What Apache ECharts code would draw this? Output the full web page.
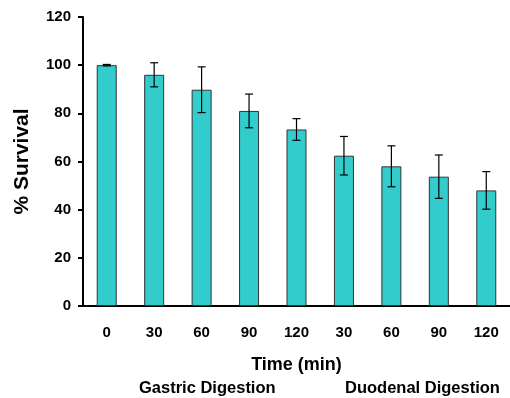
<!DOCTYPE html>
<html>
<head>
<meta charset="utf-8">
<script src="https://cdn.jsdelivr.net/npm/echarts@6/dist/echarts.min.js"></script>
<style>
  html, body { margin: 0; padding: 0; background: #fff; }
  #chart { width: 510px; height: 398px; }
</style>
</head>
<body>
<div id="chart"></div>
<script>
  const categories = ['0', '30', '60', '90', '120', '30', '60', '90', '120'];
  const survival = [100, 96, 89.8, 81, 73.3, 62.4, 58, 53.7, 48];
  const errors = [0.3, 5, 9.5, 7, 4.5, 8, 8.5, 9, 7.8];
  const yTicks = { min: 0, max: 120, interval: 20 };

  const font = 'Liberation Sans, Arial, sans-serif';
  const chart = echarts.init(document.getElementById('chart'));

  const errData = survival.map(function (v, i) { return [i, v, errors[i]]; });

  const option = {
    animation: false,
    grid: { left: 83, top: 17, width: 436, height: 289 },
    xAxis: {
      type: 'category',
      data: categories,
      axisLine: { lineStyle: { color: '#000', width: 2 } },
      axisTick: { length: 6, lineStyle: { color: '#000', width: 2 } },
      axisLabel: { color: '#000', fontWeight: 'bold', fontSize: 15, fontFamily: font, margin: 19 },
      name: 'Time (min)',
      nameLocation: 'middle',
      nameGap: 50,
      nameTextStyle: { color: '#000', fontWeight: 'bold', fontSize: 18, fontFamily: font }
    },
    yAxis: {
      type: 'value',
      min: yTicks.min,
      max: yTicks.max,
      interval: yTicks.interval,
      splitLine: { show: false },
      axisLine: { show: true, lineStyle: { color: '#000', width: 2 } },
      axisTick: { show: true, length: 5, lineStyle: { color: '#000', width: 2 } },
      axisLabel: { color: '#000', fontWeight: 'bold', fontSize: 15, fontFamily: font, margin: 12 },
      name: '% Survival',
      nameLocation: 'middle',
      nameGap: 50,
      nameTextStyle: { color: '#000', fontWeight: 'bold', fontSize: 21, fontFamily: font }
    },
    graphic: [
      { type: 'text', left: 139, top: 380, style: { text: 'Gastric Digestion', font: 'bold 16.5px ' + font, fill: '#000' } },
      { type: 'text', left: 345, top: 380, style: { text: 'Duodenal Digestion', font: 'bold 16.5px ' + font, fill: '#000' } }
    ],
    series: [
      {
        type: 'bar',
        data: survival,
        barWidth: 20,
        itemStyle: { color: '#33CCCC', borderColor: '#333', borderWidth: 1 }
      },
      {
        type: 'custom',
        data: errData,
        z: 10,
        renderItem: function (params, api) {
          const x = api.value(0);
          const v = api.value(1);
          const e = api.value(2);
          const hi = api.coord([x, v + e]);
          const lo = api.coord([x, v - e]);
          const cap = 4;
          const st = { stroke: '#000', lineWidth: 1.2 };
          return {
            type: 'group',
            children: [
              { type: 'line', shape: { x1: hi[0], y1: hi[1], x2: lo[0], y2: lo[1] }, style: st },
              { type: 'line', shape: { x1: hi[0] - cap, y1: hi[1], x2: hi[0] + cap, y2: hi[1] }, style: st },
              { type: 'line', shape: { x1: lo[0] - cap, y1: lo[1], x2: lo[0] + cap, y2: lo[1] }, style: st }
            ]
          };
        }
      }
    ]
  };
  chart.setOption(option);

  window.addEventListener('resize', function () {
    chart.resize();
  });
</script>
</body>
</html>
